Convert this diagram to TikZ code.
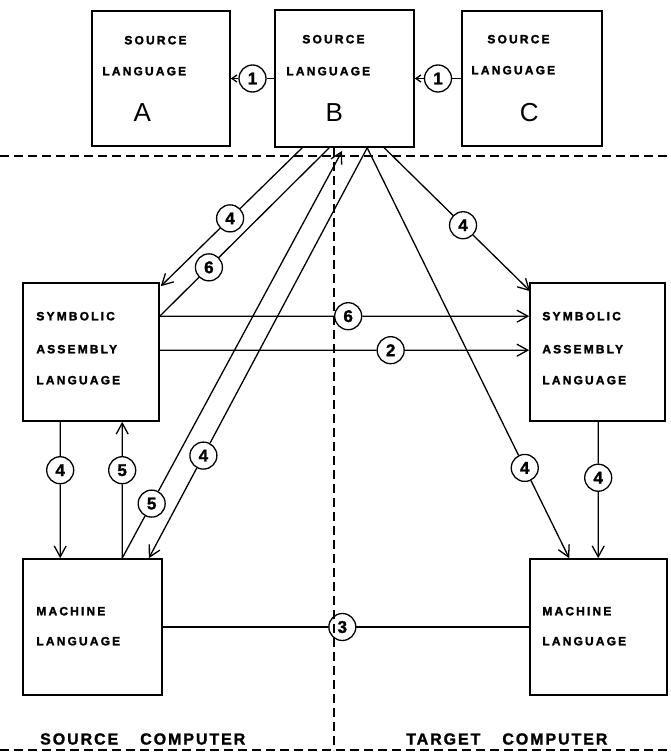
\documentclass[tikz,border=0pt]{standalone}
\usepackage{fontspec}
\setmainfont{Liberation Sans}[BoldFeatures={FakeBold=1.5}]
\newfontfamily\lblfont{Liberation Sans}[LetterSpace=18, BoldFeatures={FakeBold=2}]
\newfontfamily\sidefont{Liberation Sans}[LetterSpace=12, BoldFeatures={FakeBold=1.5}]
\usetikzlibrary{calc,positioning,arrows.meta}

\begin{document}
\begin{tikzpicture}[
  x=1pt, y=-1pt,
  box/.style={rectangle, draw, line width=1.6pt, inner sep=0pt},
  lbl/.style={font=\fontsize{12}{12}\selectfont\lblfont\bfseries, inner sep=0pt, anchor=west},
  letter/.style={font=\fontsize{26}{26}\selectfont, inner sep=0pt},
  side/.style={font=\fontsize{16}{16}\selectfont\sidefont\bfseries, inner sep=0pt, anchor=west},
  num/.style={circle, draw, line width=1.3pt, minimum size=27pt, inner sep=0pt,
    font=\fontsize{17}{17}\selectfont\bfseries},
  conn/.style={line width=1.3pt},
  arr/.style={-{Straight Barb[length=11pt,width=12pt]}, line width=1.3pt},
  shortarr/.style={-{Straight Barb[length=5pt,width=7pt]}, line width=1.3pt},
  divider/.style={line width=1.8pt, dash pattern=on 9pt off 5pt}
]
  \useasboundingbox (0,0) rectangle (671,752);

  % source language boxes
  \node[box, minimum width=138pt, minimum height=135pt] (A) at (161,78.5) {};
  \node[box, minimum width=139pt, minimum height=137pt] (B) at (344.5,78.5) {};
  \node[box, minimum width=140pt, minimum height=135pt] (C) at (532,78.5) {};
  \node[lbl] (A-src) at ($(A.north west)+(33,30)$) {SOURCE};
  \node[lbl] (A-lang) at ($(A.north west)+(11,61)$) {LANGUAGE};
  \node[letter] (A-id) at ($(A.north west)+(51,102)$) {A};
  \node[lbl] (B-src) at ($(B.north west)+(28,30)$) {SOURCE};
  \node[lbl] (B-lang) at ($(B.north west)+(12,62)$) {LANGUAGE};
  \node[letter] (B-id) at ($(B.north west)+(60,103)$) {B};
  \node[lbl] (C-src) at ($(C.north west)+(26,29)$) {SOURCE};
  \node[lbl] (C-lang) at ($(C.north west)+(10,60)$) {LANGUAGE};
  \node[letter] (C-id) at ($(C.north west)+(68,102)$) {C};

  % assembly and machine boxes
  \node[box, minimum width=136pt, minimum height=138pt] (Lsym) at (91,352) {};
  \node[box, minimum width=135pt, minimum height=138pt] (Rsym) at (597.5,352) {};
  \node[box, minimum width=139pt, minimum height=136pt] (Lmach) at (92.5,627) {};
  \node[box, minimum width=137pt, minimum height=136pt] (Rmach) at (598.5,627) {};
  \foreach \b/\dx in {Lsym/14, Rsym/13} {
    \node[lbl] (\b-sym) at ($(\b.north west)+(\dx,34)$) {SYMBOLIC};
    \node[lbl] (\b-asm) at ($(\b.north west)+(\dx,67)$) {ASSEMBLY};
    \node[lbl] (\b-lang) at ($(\b.north west)+(\dx,98)$) {LANGUAGE};
  }
  \foreach \b/\dx in {Lmach/14, Rmach/13} {
    \node[lbl] (\b-mach) at ($(\b.north west)+(\dx,53)$) {MACHINE};
    \node[lbl] (\b-lang) at ($(\b.north west)+(\dx,83)$) {LANGUAGE};
  }

  % dividers
  \draw[divider] (0,156) -- (671,156);
  \draw[divider] (334,148) -- (334,750);
  \draw[divider] (0,750) -- (671,750);
  \node[side] (src-comp) at (40,739) {SOURCE\hspace{22pt}COMPUTER};
  \node[side] (tgt-comp) at (406,739) {TARGET\hspace{22pt}COMPUTER};

  % end points on the boxes
  \coordinate (b1) at ($(B.south west)+(28,0)$);
  \coordinate (b2) at ($(B.south west)+(55,0)$);
  \coordinate (b3) at ($(B.south west)+(68,3)$);
  \coordinate (b4) at ($(B.south west)+(93,0)$);
  \coordinate (b5) at ($(B.south west)+(110,0)$);
  \coordinate (ls4) at ($(Lsym.north east)+(1,4)$);
  \coordinate (ls6) at ($(Lsym.north east)+(0,34)$);
  \coordinate (ls2) at ($(Lsym.north east)+(0,68)$);
  \coordinate (rs4) at ($(Rsym.north west)+(1,9)$);
  \coordinate (rs6) at ($(Rsym.north west)+(0,34)$);
  \coordinate (rs2) at ($(Rsym.north west)+(0,68)$);
  \coordinate (lsD) at ($(Lsym.south west)+(38,0)$);
  \coordinate (lsU) at ($(Lsym.south west)+(100,0)$);
  \coordinate (lmD) at ($(Lmach.north west)+(38,0)$);
  \coordinate (lmU) at ($(Lmach.north west)+(100,0)$);
  \coordinate (lm4) at ($(Lmach.north east)+(-14,0)$);
  \coordinate (rsD) at ($(Rsym.south west)+(69,0)$);
  \coordinate (rmD) at ($(Rmach.north west)+(69,0)$);
  \coordinate (rm4) at ($(Rmach.north west)+(40,0)$);

  % numbered steps
  \node[num] (n1a) at ($(B.west)!0.5!(A.east)$) {1};
  \node[num] (n1b) at ($(C.west)!0.5!(B.east)$) {1};
  \node[num] (n4a) at ($(b1)!0.51!(ls4)$) {4};
  \node[num] (n6a) at ($(b2)!0.71!(ls6)$) {6};
  \node[num] (n4b) at ($(b5)!0.54!(rs4)$) {4};
  \node[num] (n6b) at ($(ls6)!0.51!(rs6)$) {6};
  \node[num] (n2) at ($(ls2)!0.625!(rs2)$) {2};
  \node[num] (n4c) at ($(b4)!0.75!(lm4)$) {4};
  \node[num] (n4d) at ($(b4)!0.78!(rm4)$) {4};
  \node[num] (n5a) at ($(lmU)!0.134!(b3)$) {5};
  \node[num] (n4e) at ($(lsD)!0.355!(lmD)$) {4};
  \node[num] (n5b) at ($(lmU)!0.645!(lsU)$) {5};
  \node[num] (n4f) at ($(rsD)!0.41!(rmD)$) {4};
  \node[num] (n3) at ($(Lmach.east)!0.49!(Rmach.west)$) {3};

  % connectors
  \draw[conn] (B.west) -- (n1a);  \draw[shortarr] (n1a) -- (A.east);
  \draw[conn] (C.west) -- (n1b);  \draw[shortarr] (n1b) -- (B.east);
  \draw[conn] (b1) -- (n4a);      \draw[arr] (n4a) -- (ls4);
  \draw[conn] (b2) -- (n6a);      \draw[conn] (n6a) -- (ls6);
  \draw[conn] (b5) -- (n4b);      \draw[arr] (n4b) -- (rs4);
  \draw[conn] (ls6) -- (n6b);     \draw[arr] (n6b) -- (rs6);
  \draw[conn] (ls2) -- (n2);      \draw[arr] (n2) -- (rs2);
  \draw[conn] (b4) -- (n4c);      \draw[arr] (n4c) -- (lm4);
  \draw[conn] (b4) -- (n4d);      \draw[arr] (n4d) -- (rm4);
  \draw[conn] (lmU) -- (n5a);     \draw[arr] (n5a) -- (b3);
  \draw[conn] (lsD) -- (n4e);     \draw[arr] (n4e) -- (lmD);
  \draw[conn] (lmU) -- (n5b);     \draw[arr] (n5b) -- (lsU);
  \draw[conn] (rsD) -- (n4f);     \draw[arr] (n4f) -- (rmD);
  \draw[conn] (Lmach.east) -- (n3) -- (Rmach.west);
\end{tikzpicture}
\end{document}
